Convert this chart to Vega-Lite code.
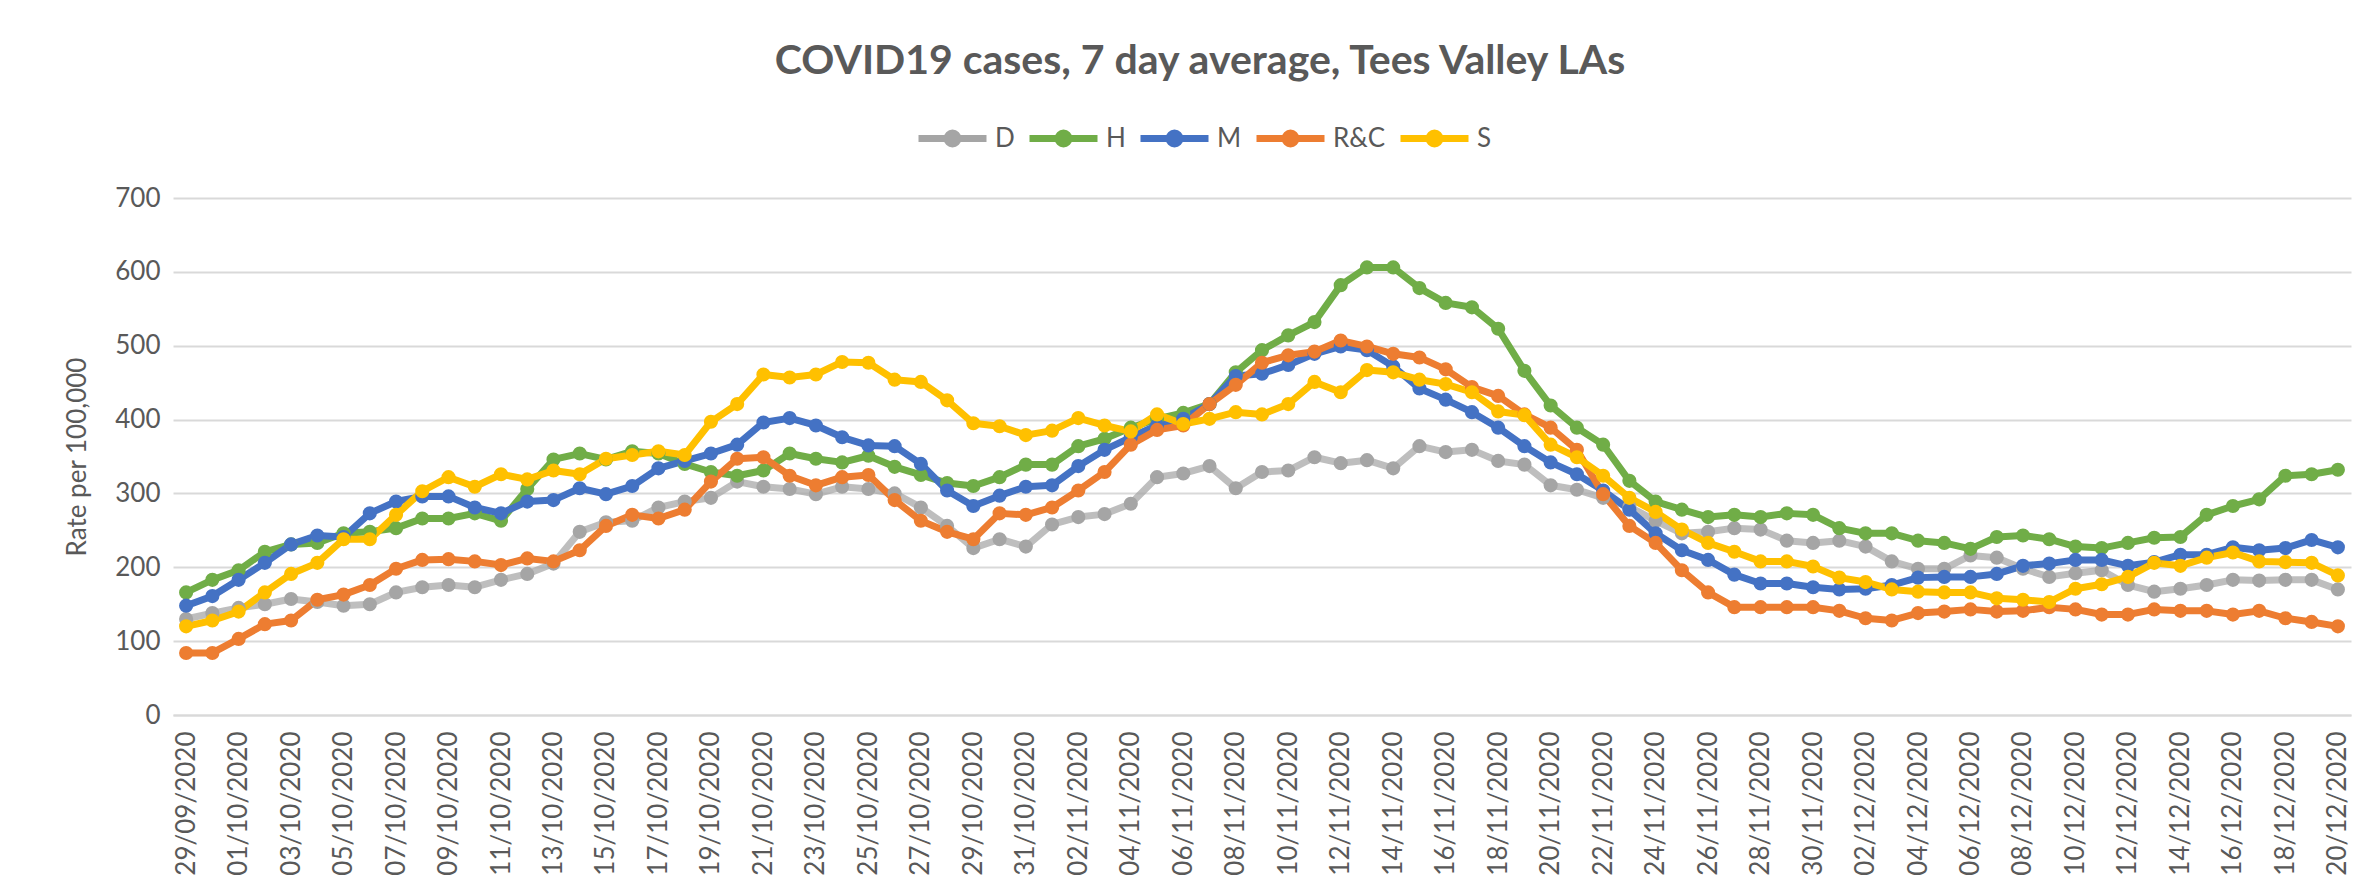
{
  "$schema": "https://vega.github.io/schema/vega-lite/v6.json",
  "autosize": {"type": "none"},
  "padding": {"left": 173, "top": 198, "right": 23, "bottom": 176},
  "width": 2178,
  "height": 517,
  "background": "white",
  "title": {
    "text": "COVID19 cases, 7 day average, Tees Valley LAs",
    "font": "Lato",
    "fontSize": 41,
    "fontWeight": "bold",
    "color": "#595959",
    "anchor": "middle",
    "frame": "group",
    "orient": "top",
    "baseline": "alphabetic",
    "offset": 30,
    "dy": 44,
    "dx": -62
  },
  "data": {
    "values": [
      {"date": "29/09/2020", "D": 130, "H": 166, "M": 148, "R&C": 84, "S": 120},
      {"date": "30/09/2020", "D": 138, "H": 183, "M": 161, "R&C": 84, "S": 128},
      {"date": "01/10/2020", "D": 145, "H": 196, "M": 183, "R&C": 103, "S": 140},
      {"date": "02/10/2020", "D": 150, "H": 221, "M": 206, "R&C": 123, "S": 166},
      {"date": "03/10/2020", "D": 157, "H": 231, "M": 231, "R&C": 128, "S": 191},
      {"date": "04/10/2020", "D": 153, "H": 233, "M": 243, "R&C": 156, "S": 206},
      {"date": "05/10/2020", "D": 148, "H": 246, "M": 241, "R&C": 163, "S": 238},
      {"date": "06/10/2020", "D": 150, "H": 248, "M": 273, "R&C": 176, "S": 238},
      {"date": "07/10/2020", "D": 166, "H": 253, "M": 289, "R&C": 198, "S": 271},
      {"date": "08/10/2020", "D": 173, "H": 266, "M": 296, "R&C": 210, "S": 303},
      {"date": "09/10/2020", "D": 176, "H": 266, "M": 296, "R&C": 211, "S": 322},
      {"date": "10/10/2020", "D": 173, "H": 273, "M": 281, "R&C": 208, "S": 309},
      {"date": "11/10/2020", "D": 183, "H": 263, "M": 273, "R&C": 203, "S": 326},
      {"date": "12/10/2020", "D": 191, "H": 306, "M": 289, "R&C": 212, "S": 319},
      {"date": "13/10/2020", "D": 205, "H": 346, "M": 291, "R&C": 208, "S": 331},
      {"date": "14/10/2020", "D": 248, "H": 354, "M": 307, "R&C": 223, "S": 326},
      {"date": "15/10/2020", "D": 261, "H": 346, "M": 299, "R&C": 256, "S": 347},
      {"date": "16/10/2020", "D": 263, "H": 357, "M": 310, "R&C": 271, "S": 352},
      {"date": "17/10/2020", "D": 281, "H": 354, "M": 334, "R&C": 266, "S": 357},
      {"date": "18/10/2020", "D": 289, "H": 340, "M": 344, "R&C": 278, "S": 352},
      {"date": "19/10/2020", "D": 294, "H": 329, "M": 354, "R&C": 316, "S": 397},
      {"date": "20/10/2020", "D": 316, "H": 324, "M": 366, "R&C": 347, "S": 421},
      {"date": "21/10/2020", "D": 309, "H": 331, "M": 396, "R&C": 349, "S": 461},
      {"date": "22/10/2020", "D": 306, "H": 354, "M": 402, "R&C": 324, "S": 457},
      {"date": "23/10/2020", "D": 299, "H": 347, "M": 392, "R&C": 311, "S": 461},
      {"date": "24/10/2020", "D": 309, "H": 342, "M": 376, "R&C": 322, "S": 478},
      {"date": "25/10/2020", "D": 306, "H": 351, "M": 365, "R&C": 325, "S": 477},
      {"date": "26/10/2020", "D": 300, "H": 336, "M": 364, "R&C": 291, "S": 454},
      {"date": "27/10/2020", "D": 281, "H": 325, "M": 340, "R&C": 263, "S": 451},
      {"date": "28/10/2020", "D": 256, "H": 314, "M": 304, "R&C": 248, "S": 426},
      {"date": "29/10/2020", "D": 226, "H": 310, "M": 283, "R&C": 238, "S": 395},
      {"date": "30/10/2020", "D": 238, "H": 322, "M": 297, "R&C": 273, "S": 391},
      {"date": "31/10/2020", "D": 228, "H": 339, "M": 309, "R&C": 271, "S": 379},
      {"date": "01/11/2020", "D": 258, "H": 339, "M": 311, "R&C": 281, "S": 385},
      {"date": "02/11/2020", "D": 268, "H": 364, "M": 337, "R&C": 304, "S": 402},
      {"date": "03/11/2020", "D": 272, "H": 374, "M": 359, "R&C": 329, "S": 392},
      {"date": "04/11/2020", "D": 286, "H": 389, "M": 376, "R&C": 366, "S": 384},
      {"date": "05/11/2020", "D": 322, "H": 401, "M": 392, "R&C": 386, "S": 407},
      {"date": "06/11/2020", "D": 327, "H": 409, "M": 401, "R&C": 392, "S": 394},
      {"date": "07/11/2020", "D": 337, "H": 421, "M": 421, "R&C": 421, "S": 401},
      {"date": "08/11/2020", "D": 307, "H": 464, "M": 459, "R&C": 447, "S": 410},
      {"date": "09/11/2020", "D": 329, "H": 494, "M": 462, "R&C": 477, "S": 407},
      {"date": "10/11/2020", "D": 331, "H": 514, "M": 474, "R&C": 487, "S": 421},
      {"date": "11/11/2020", "D": 349, "H": 532, "M": 489, "R&C": 492, "S": 451},
      {"date": "12/11/2020", "D": 341, "H": 582, "M": 499, "R&C": 507, "S": 437},
      {"date": "13/11/2020", "D": 345, "H": 606, "M": 494, "R&C": 499, "S": 467},
      {"date": "14/11/2020", "D": 334, "H": 606, "M": 472, "R&C": 489, "S": 464},
      {"date": "15/11/2020", "D": 364, "H": 578, "M": 442, "R&C": 484, "S": 454},
      {"date": "16/11/2020", "D": 356, "H": 558, "M": 427, "R&C": 468, "S": 448},
      {"date": "17/11/2020", "D": 359, "H": 552, "M": 410, "R&C": 444, "S": 437},
      {"date": "18/11/2020", "D": 344, "H": 523, "M": 389, "R&C": 432, "S": 411},
      {"date": "19/11/2020", "D": 339, "H": 466, "M": 364, "R&C": 407, "S": 406},
      {"date": "20/11/2020", "D": 311, "H": 419, "M": 342, "R&C": 389, "S": 366},
      {"date": "21/11/2020", "D": 305, "H": 389, "M": 326, "R&C": 359, "S": 349},
      {"date": "22/11/2020", "D": 294, "H": 366, "M": 304, "R&C": 299, "S": 324},
      {"date": "23/11/2020", "D": 282, "H": 317, "M": 278, "R&C": 256, "S": 294},
      {"date": "24/11/2020", "D": 263, "H": 289, "M": 246, "R&C": 233, "S": 275},
      {"date": "25/11/2020", "D": 246, "H": 278, "M": 223, "R&C": 196, "S": 251},
      {"date": "26/11/2020", "D": 248, "H": 268, "M": 210, "R&C": 166, "S": 233},
      {"date": "27/11/2020", "D": 253, "H": 271, "M": 190, "R&C": 146, "S": 221},
      {"date": "28/11/2020", "D": 251, "H": 268, "M": 178, "R&C": 146, "S": 208},
      {"date": "29/11/2020", "D": 236, "H": 273, "M": 178, "R&C": 146, "S": 208},
      {"date": "30/11/2020", "D": 233, "H": 271, "M": 173, "R&C": 146, "S": 201},
      {"date": "01/12/2020", "D": 236, "H": 253, "M": 170, "R&C": 141, "S": 186},
      {"date": "02/12/2020", "D": 228, "H": 246, "M": 171, "R&C": 131, "S": 180},
      {"date": "03/12/2020", "D": 208, "H": 246, "M": 176, "R&C": 128, "S": 170},
      {"date": "04/12/2020", "D": 198, "H": 236, "M": 186, "R&C": 138, "S": 167},
      {"date": "05/12/2020", "D": 198, "H": 233, "M": 187, "R&C": 140, "S": 166},
      {"date": "06/12/2020", "D": 216, "H": 225, "M": 187, "R&C": 143, "S": 166},
      {"date": "07/12/2020", "D": 213, "H": 241, "M": 191, "R&C": 140, "S": 158},
      {"date": "08/12/2020", "D": 198, "H": 243, "M": 202, "R&C": 141, "S": 156},
      {"date": "09/12/2020", "D": 187, "H": 238, "M": 205, "R&C": 146, "S": 153},
      {"date": "10/12/2020", "D": 192, "H": 228, "M": 210, "R&C": 143, "S": 171},
      {"date": "11/12/2020", "D": 196, "H": 226, "M": 210, "R&C": 136, "S": 177},
      {"date": "12/12/2020", "D": 176, "H": 233, "M": 202, "R&C": 136, "S": 187},
      {"date": "13/12/2020", "D": 167, "H": 240, "M": 207, "R&C": 143, "S": 206},
      {"date": "14/12/2020", "D": 171, "H": 241, "M": 217, "R&C": 141, "S": 202},
      {"date": "15/12/2020", "D": 176, "H": 271, "M": 217, "R&C": 141, "S": 213},
      {"date": "16/12/2020", "D": 183, "H": 283, "M": 227, "R&C": 136, "S": 220},
      {"date": "17/12/2020", "D": 182, "H": 292, "M": 223, "R&C": 141, "S": 208},
      {"date": "18/12/2020", "D": 183, "H": 324, "M": 226, "R&C": 131, "S": 207},
      {"date": "19/12/2020", "D": 183, "H": 326, "M": 237, "R&C": 126, "S": 206},
      {"date": "20/12/2020", "D": 170, "H": 332, "M": 227, "R&C": 120, "S": 189}
    ]
  },
  "transform": [
    {"fold": ["D", "H", "M", "R&C", "S"], "as": ["series", "value"]}
  ],
  "encoding": {
    "x": {
      "field": "date",
      "type": "ordinal",
      "sort": null,
      "scale": {"type": "point", "padding": 0.5},
      "axis": {
        "title": null,
        "labelAngle": -90,
        "labelFont": "Lato",
        "labelFontSize": 26,
        "labelColor": "#595959",
        "labelPadding": 16,
        "ticks": false,
        "tickSize": 0,
        "grid": false,
        "domain": true,
        "domainColor": "#D9D9D9",
        "domainWidth": 2,
        "labelOverlap": false,
        "values": ["29/09/2020", "01/10/2020", "03/10/2020", "05/10/2020", "07/10/2020", "09/10/2020", "11/10/2020", "13/10/2020", "15/10/2020", "17/10/2020", "19/10/2020", "21/10/2020", "23/10/2020", "25/10/2020", "27/10/2020", "29/10/2020", "31/10/2020", "02/11/2020", "04/11/2020", "06/11/2020", "08/11/2020", "10/11/2020", "12/11/2020", "14/11/2020", "16/11/2020", "18/11/2020", "20/11/2020", "22/11/2020", "24/11/2020", "26/11/2020", "28/11/2020", "30/11/2020", "02/12/2020", "04/12/2020", "06/12/2020", "08/12/2020", "10/12/2020", "12/12/2020", "14/12/2020", "16/12/2020", "18/12/2020", "20/12/2020"]
      }
    },
    "y": {
      "field": "value",
      "type": "quantitative",
      "scale": {"domain": [0, 700], "nice": false},
      "axis": {
        "title": "Rate per 100,000",
        "titleFont": "Lato",
        "titleFontSize": 26,
        "titleFontWeight": "normal",
        "titleColor": "#595959",
        "titlePadding": 24,
        "values": [0, 100, 200, 300, 400, 500, 600, 700],
        "labelFont": "Lato",
        "labelFontSize": 26,
        "labelColor": "#595959",
        "labelPadding": 13,
        "ticks": false,
        "tickSize": 0,
        "domain": false,
        "grid": true,
        "gridColor": "#D9D9D9",
        "gridWidth": 2
      }
    },
    "color": {
      "field": "series",
      "type": "nominal",
      "scale": {
        "domain": ["D", "H", "M", "R&C", "S"],
        "range": ["#A5A5A5", "#70AD47", "#4472C4", "#ED7D31", "#FFC000"]
      },
      "legend": {
        "title": null,
        "orient": "none",
        "direction": "horizontal",
        "columns": 5,
        "legendX": 742,
        "legendY": -97,
        "padding": 0,
        "columnPadding": 0,
        "labelOffset": 5,
        "labelFont": "Lato",
        "labelFontSize": 26,
        "labelColor": "#595959",
        "symbolType": "M-1,0L1,0M0.16,0A0.16,0.16,0,1,1,-0.16,0A0.16,0.16,0,1,1,0.16,0M0.05,0A0.05,0.05,0,1,1,-0.05,0A0.05,0.05,0,1,1,0.05,0",
        "symbolSize": 4624,
        "symbolStrokeWidth": 7
      }
    }
  },
  "layer": [
    {
      "mark": {"type": "line", "strokeWidth": 7, "strokeCap": "round", "strokeJoin": "round"},
      "encoding": {
        "strokeOpacity": {"condition": {"test": "datum.series === 'D'", "value": 0.72}, "value": 1}
      }
    },
    {
      "mark": {"type": "point", "filled": true, "size": 200, "opacity": 1}
    }
  ],
  "config": {
    "view": {"stroke": null},
    "font": "Lato"
  }
}
